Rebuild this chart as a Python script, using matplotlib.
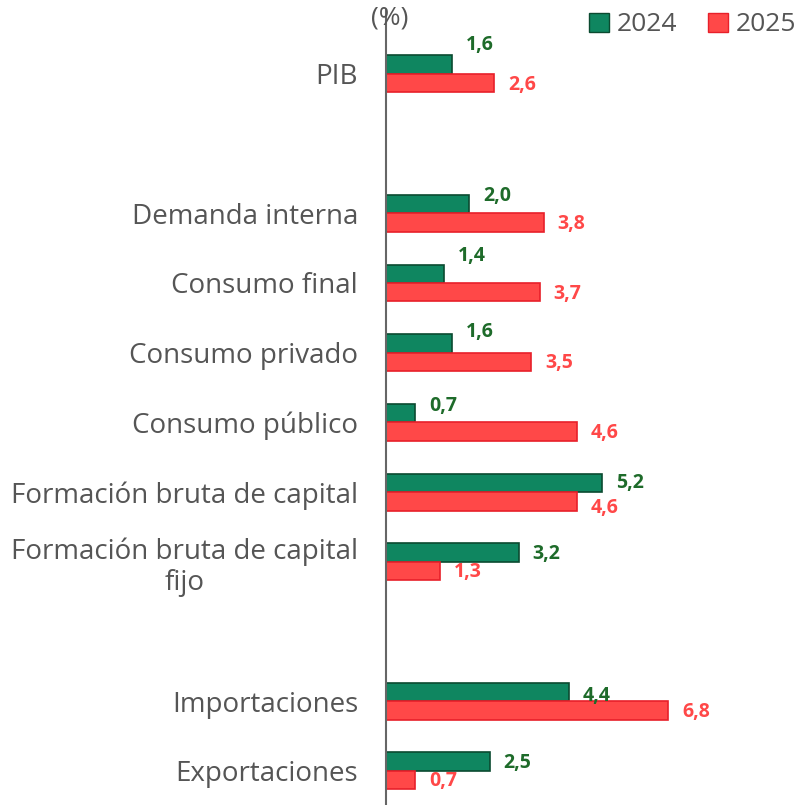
import matplotlib.pyplot as plt
from matplotlib.patches import Patch

categorias = ["PIB", "", "Demanda interna", "Consumo final", "Consumo privado",
              "Consumo público", "Formación bruta de capital",
              "Formación bruta de capital\nfijo", "", "Importaciones", "Exportaciones"]
v2024 = [1.6, None, 2.0, 1.4, 1.6, 0.7, 5.2, 3.2, None, 4.4, 2.5]
v2025 = [2.6, None, 3.8, 3.7, 3.5, 4.6, 4.6, 1.3, None, 6.8, 0.7]

# vertical nudges of the value labels (points, + is up)
off24 = [14, 0, 6, 13, 8, 5, 0, -1, 0, -3, -1]
off25 = [-1, 0, -1, -1, -1, -1, -5, -1, 0, -1, -1]

verde, verde_borde, verde_txt = "#0f8660", "#0b4a30", "#1e6b2a"
rojo, rojo_borde = "#ff4848", "#e8202a"
gris = "#555555"

plt.rcParams['font.family'] = ['Open Sans', 'DejaVu Sans']

fig = plt.figure(figsize=(7.96, 8.05), dpi=100)
ax = fig.add_axes([386/796, 0, 410/796, 1])

h = 0.265
for i in range(len(categorias)):
    if v2024[i] is None:
        continue
    ax.barh(i - h/2, v2024[i], height=h, color=verde, edgecolor=verde_borde, linewidth=1.2)
    ax.barh(i + h/2, v2025[i], height=h, color=rojo, edgecolor=rojo_borde, linewidth=1.2)
    ax.annotate(f"{v2024[i]:.1f}".replace(".", ","), (v2024[i], i - h/2),
                xytext=(10, off24[i]), textcoords="offset points", ha="left", va="center",
                fontsize=14, fontweight="bold", color=verde_txt)
    ax.annotate(f"{v2025[i]:.1f}".replace(".", ","), (v2025[i], i + h/2),
                xytext=(10, off25[i]), textcoords="offset points", ha="left", va="center",
                fontsize=14, fontweight="bold", color=rojo)

ax.set_yticks([i for i, c in enumerate(categorias) if c])
ax.set_yticklabels([c for c in categorias if c], fontsize=20, color=gris,
                   multialignment="center", linespacing=1.15)
ax.tick_params(axis="y", length=0, pad=20)
ax.set_xticks([])
ax.set_xlim(0, 9.88)
ax.set_ylim(10.49, -1.06)
for s in ["top", "right", "bottom"]:
    ax.spines[s].set_visible(False)
ax.spines["left"].set_color("#666666")
ax.spines["left"].set_linewidth(1.5)
ax.spines["left"].set_bounds(-0.92, 10.49)

fig.text(371/796, 1 - 18/805, "(%)", fontsize=19, color=gris, va="center", ha="left")
handles = [Patch(facecolor=verde, edgecolor=verde_borde, label="2024"),
           Patch(facecolor=rojo, edgecolor=rojo_borde, label="2025")]
fig.legend(handles=handles, loc="upper right", bbox_to_anchor=(1.03, 1.014), ncol=2,
           frameon=False, fontsize=19, labelcolor=gris, handlelength=0.75,
           handleheight=0.75, handletextpad=0.3, columnspacing=1.15)

fig.savefig("out.png", dpi=100)
